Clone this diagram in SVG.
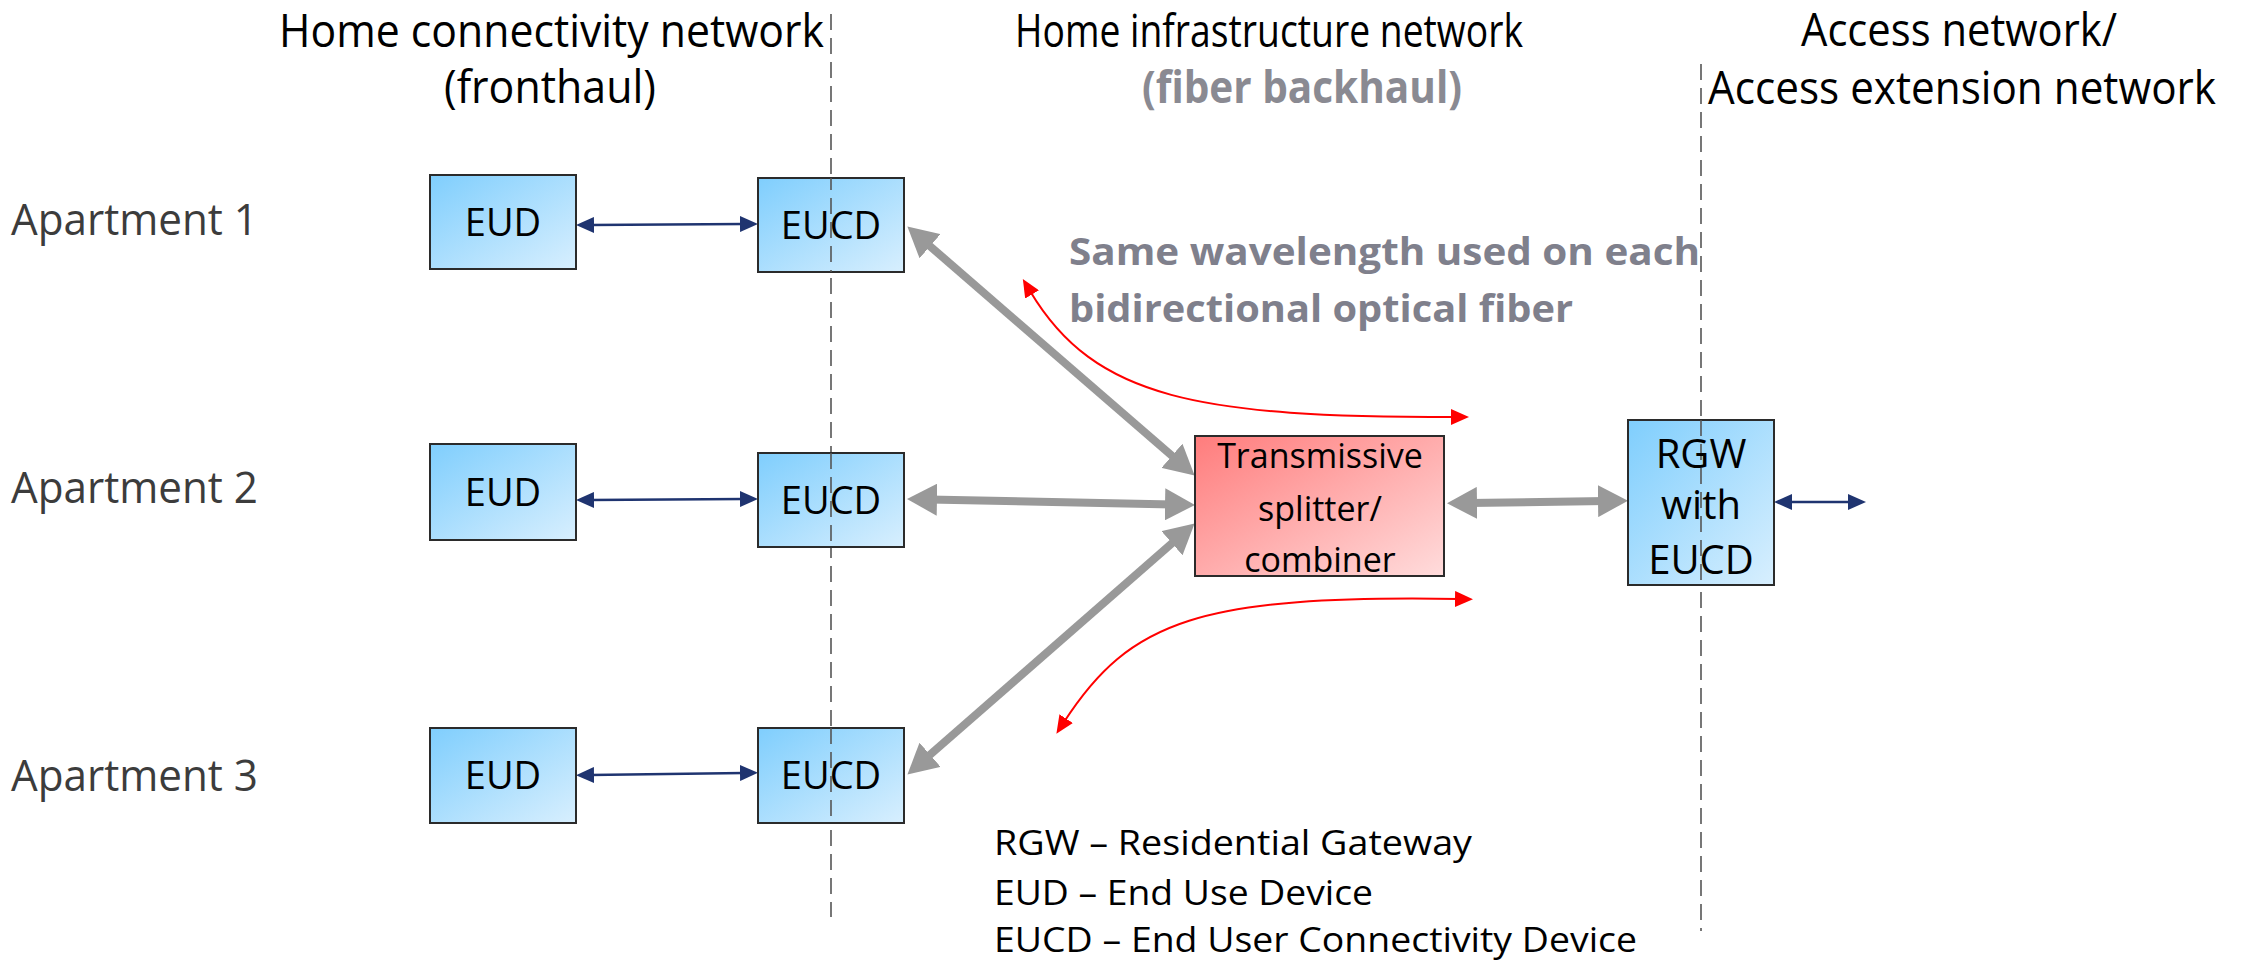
<svg xmlns="http://www.w3.org/2000/svg" width="2247" height="962" viewBox="0 0 2247 962">
  <defs>
    <linearGradient id="gBlue" x1="0" y1="0" x2="1" y2="1">
      <stop offset="0" stop-color="#7FCEFD"/>
      <stop offset="1" stop-color="#D8EFFE"/>
    </linearGradient>
    <linearGradient id="gRed" x1="0" y1="0" x2="1" y2="1">
      <stop offset="0" stop-color="#FF7C7C"/>
      <stop offset="1" stop-color="#FFDCDC"/>
    </linearGradient>
    <marker id="mGray" markerUnits="userSpaceOnUse" markerWidth="32" markerHeight="32" refX="8" refY="16" orient="auto-start-reverse">
      <path d="M0,0 L30,16 L0,32 z" fill="#999999"/>
    </marker>
    <marker id="mNavy" markerUnits="userSpaceOnUse" markerWidth="20" markerHeight="16" refX="4" refY="8" orient="auto-start-reverse">
      <path d="M0,0 L18,8 L0,16 z" fill="#1F3470"/>
    </marker>
    <marker id="mRed" markerUnits="userSpaceOnUse" markerWidth="20" markerHeight="16" refX="4" refY="8" orient="auto-start-reverse">
      <path d="M0,0 L18,8 L0,16 z" fill="#FF0000"/>
    </marker>
  </defs>
  <style>
    text { font-family: "Open Sans", "Noto Sans", "Liberation Sans", sans-serif; fill: #000; }
    .title { font-size: 45px; }
    .apt { font-size: 44px; fill: #3C3C3C; }
    .lbl { font-size: 38px; text-anchor: middle; }
    .split { font-size: 34px; text-anchor: middle; }
    .rgw { font-size: 40px; text-anchor: middle; }
    .note { font-size: 38px; font-weight: bold; fill: #7F808C; }
    .legend { font-size: 35px; }
    .box { fill: url(#gBlue); stroke: #2B2B2B; stroke-width: 2; }
    .sbox { fill: url(#gRed); stroke: #2B2B2B; stroke-width: 2; }
    .divider { stroke: #555; stroke-width: 1.6; stroke-dasharray: 16 8; fill: none; }
    .fiber { stroke: #999999; stroke-width: 8; fill: none; marker-start: url(#mGray); marker-end: url(#mGray); }
    .link { stroke: #1F3470; stroke-width: 2.5; fill: none; marker-start: url(#mNavy); marker-end: url(#mNavy); }
    .wave { stroke: #FF0000; stroke-width: 2; fill: none; marker-start: url(#mRed); marker-end: url(#mRed); }
  </style>

  <rect width="2247" height="962" fill="#FFFFFF"/>

  <!-- section headings -->
  <g id="headings">
    <text class="title" x="279" y="47" textLength="545" lengthAdjust="spacingAndGlyphs">Home connectivity network</text>
    <text class="title" x="444" y="103" textLength="212" lengthAdjust="spacingAndGlyphs">(fronthaul)</text>
    <text class="title" x="1015" y="47" textLength="508" lengthAdjust="spacingAndGlyphs">Home infrastructure network</text>
    <text class="title" x="1142" y="103" textLength="320" lengthAdjust="spacingAndGlyphs" style="font-weight:bold;fill:#8A8A92">(fiber backhaul)</text>
    <text class="title" x="1801" y="46" textLength="316" lengthAdjust="spacingAndGlyphs">Access network/</text>
    <text class="title" x="1708" y="104" textLength="508" lengthAdjust="spacingAndGlyphs">Access extension network</text>
  </g>

  <!-- zone dividers -->
  <g id="dividers">
    <line class="divider" x1="831" y1="14" x2="831" y2="917"/>
    <line class="divider" x1="1701" y1="64" x2="1701" y2="931"/>
  </g>

  <!-- row labels -->
  <g id="rows">
    <text class="apt" x="11" y="235" textLength="247" lengthAdjust="spacingAndGlyphs">Apartment 1</text>
    <text class="apt" x="11" y="503" textLength="247" lengthAdjust="spacingAndGlyphs">Apartment 2</text>
    <text class="apt" x="11" y="791" textLength="247" lengthAdjust="spacingAndGlyphs">Apartment 3</text>
  </g>

  <!-- connectors -->
  <g id="connectors">
    <line class="link" x1="590" y1="225" x2="744" y2="224"/>
    <line class="link" x1="590" y1="500" x2="744" y2="499"/>
    <line class="link" x1="590" y1="775" x2="744" y2="773"/>
    <line class="link" x1="1788" y1="502" x2="1852" y2="502"/>

    <line class="fiber" x1="924" y1="241" x2="1178" y2="461"/>
    <line class="fiber" x1="929" y1="499.5" x2="1173" y2="504.5"/>
    <line class="fiber" x1="924" y1="760" x2="1178" y2="538"/>
    <line class="fiber" x1="1469" y1="503" x2="1606" y2="501"/>

    <path class="wave" d="M1030,291 C1095,400 1200,417 1455,417"/>
    <path class="wave" d="M1064,722 C1130,620 1200,595 1459,599"/>
  </g>

  <!-- devices -->
  <g id="eud1"><rect class="box" x="430" y="175" width="146" height="94"/><text class="lbl" x="503" y="236">EUD</text></g>
  <g id="eud2"><rect class="box" x="430" y="444" width="146" height="96"/><text class="lbl" x="503" y="506">EUD</text></g>
  <g id="eud3"><rect class="box" x="430" y="728" width="146" height="95"/><text class="lbl" x="503" y="789">EUD</text></g>

  <g id="eucd1"><rect class="box" x="758" y="178" width="146" height="94"/><text class="lbl" x="831" y="239">EUCD</text></g>
  <g id="eucd2"><rect class="box" x="758" y="453" width="146" height="94"/><text class="lbl" x="831" y="514">EUCD</text></g>
  <g id="eucd3"><rect class="box" x="758" y="728" width="146" height="95"/><text class="lbl" x="831" y="789">EUCD</text></g>

  <!-- divider drawn again across the EUCD boxes -->
  <g id="divider-overlay">
    <line class="divider" x1="831" y1="178" x2="831" y2="272" style="stroke-dashoffset:4"/>
    <line class="divider" x1="831" y1="453" x2="831" y2="547"/>
    <line class="divider" x1="831" y1="728" x2="831" y2="823"/>
  </g>

  <g id="splitter">
    <rect class="sbox" x="1195" y="436" width="249" height="140"/>
    <text class="split" x="1320" y="468">Transmissive</text>
    <text class="split" x="1320" y="521">splitter/</text>
    <text class="split" x="1320" y="572">combiner</text>
  </g>

  <g id="rgw">
    <rect class="box" x="1628" y="420" width="146" height="165"/>
    <line class="divider" x1="1701" y1="420" x2="1701" y2="585"/>
    <text class="rgw" x="1701" y="468">RGW</text>
    <text class="rgw" x="1701" y="519">with</text>
    <text class="rgw" x="1701" y="574">EUCD</text>
  </g>

  <!-- annotation -->
  <g id="note">
    <text class="note" x="1069" y="265" textLength="631" lengthAdjust="spacingAndGlyphs">Same wavelength used on each</text>
    <text class="note" x="1069" y="322" textLength="504" lengthAdjust="spacingAndGlyphs">bidirectional optical fiber</text>
  </g>

  <!-- abbreviations -->
  <g id="legend">
    <text class="legend" x="994" y="855" textLength="478" lengthAdjust="spacingAndGlyphs">RGW – Residential Gateway</text>
    <text class="legend" x="994" y="905" textLength="379" lengthAdjust="spacingAndGlyphs">EUD – End Use Device</text>
    <text class="legend" x="994" y="952" textLength="643" lengthAdjust="spacingAndGlyphs">EUCD – End User Connectivity Device</text>
  </g>
</svg>
